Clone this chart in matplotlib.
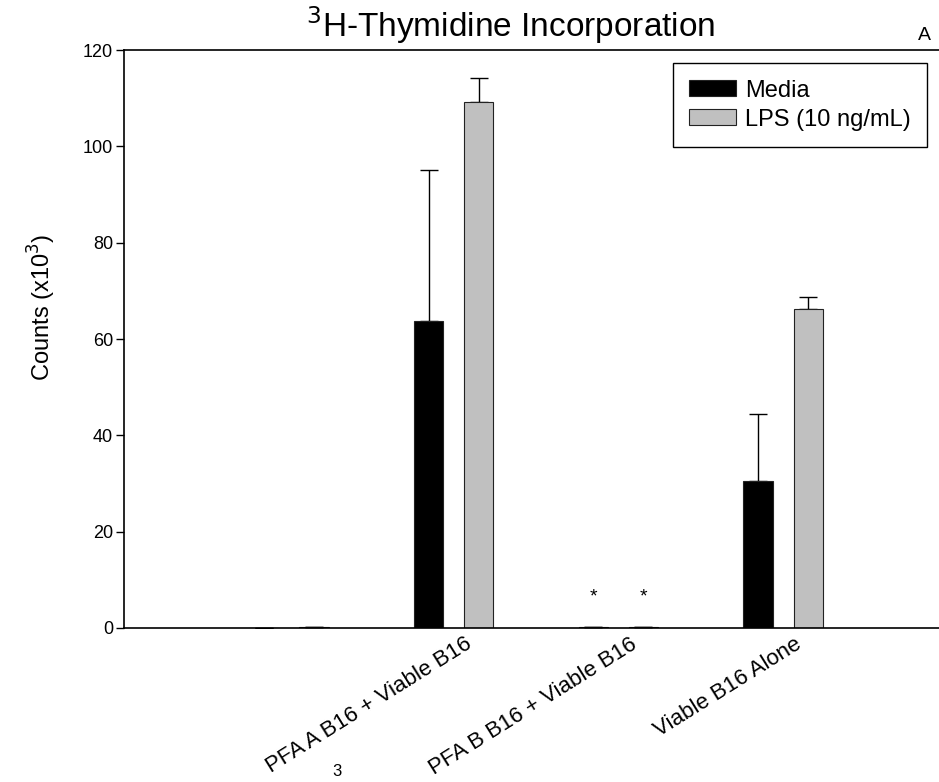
import matplotlib.pyplot as plt
import matplotlib.transforms as mtransforms
import numpy as np

plt.rcParams['font.family'] = ['Liberation Sans', 'DejaVu Sans']

groups = ['', 'PFA A B16 + Viable B16', 'PFA B B16 + Viable B16', 'Viable B16 Alone']
media = [0.1, 63.8, 0.2, 30.5]
media_err = [0.0, 31.2, 0.0, 14.0]
lps = [0.3, 109.2, 0.2, 66.3]
lps_err = [0.0, 5.0, 0.0, 2.5]
star_groups = [2]  # index of group marked with asterisks
star_y = 6.5

fig = plt.figure(figsize=(9.39, 7.82), dpi=100)
ax = fig.add_axes([124 / 939, 154 / 782, 824 / 939, 578 / 782])

x = np.arange(1, len(groups) + 1)
off = 0.152
w = 0.178

ax.bar(x - off, media, w, color='black', edgecolor='#222222', linewidth=0.8,
       label='Media', zorder=2)
ax.bar(x + off, lps, w, color='#c0c0c0', edgecolor='#222222', linewidth=0.8,
       label='LPS (10 ng/mL)', zorder=2)
ax.errorbar(x - off, media, yerr=[np.zeros(len(media)), media_err], fmt='none',
            ecolor='black', elinewidth=1, capsize=6.5, capthick=1, zorder=1)
ax.errorbar(x + off, lps, yerr=[np.zeros(len(lps)), lps_err], fmt='none',
            ecolor='black', elinewidth=1, capsize=6.5, capthick=1, zorder=1)

for g in star_groups:
    ax.text(x[g] - off, star_y, '*', ha='center', va='center', fontsize=14)
    ax.text(x[g] + off, star_y, '*', ha='center', va='center', fontsize=14)

ax.set_xlim(0, 5)
ax.set_ylim(0, 120)
ax.set_yticks(np.arange(0, 121, 20))
ax.tick_params(axis='y', labelsize=13, direction='out', length=6, width=1, pad=2)
ax.set_xticks(x)
ax.set_xticklabels(groups, rotation=32, ha='right', rotation_mode='anchor',
                   fontsize=16)
ax.tick_params(axis='x', length=0, pad=4)
shift = mtransforms.ScaledTranslation(11 / 100, 0, fig.dpi_scale_trans)
for lbl in ax.get_xticklabels():
    lbl.set_transform(lbl.get_transform() + shift)
ax.spines['right'].set_visible(False)
for s in ['left', 'top', 'bottom']:
    ax.spines[s].set_linewidth(1.2)

fig.text(42 / 939, 1 - 307 / 782, 'Counts (x10$^3$)', rotation=90, ha='center',
         va='center', fontsize=17)
fig.text(511 / 939, 1 - 25 / 782, '$^3$H-Thymidine Incorporation', ha='center',
         va='center', fontsize=24)
fig.text(924 / 939, 1 - 36 / 782, 'A', ha='center', va='center', fontsize=14)
fig.text(337 / 939, 1 - 772 / 782, '3', ha='center', va='center', fontsize=12)

leg = ax.legend(loc='upper right', bbox_to_anchor=(927 / 939, 1 - 63 / 782),
                bbox_transform=fig.transFigure, borderaxespad=0, fontsize=17,
                fancybox=False, edgecolor='black', framealpha=1,
                handlelength=2.0, handleheight=0.65, handletextpad=0.35,
                borderpad=0.7, labelspacing=0.3)
leg.get_frame().set_linewidth(1)

fig.savefig('out.png', dpi=100)
